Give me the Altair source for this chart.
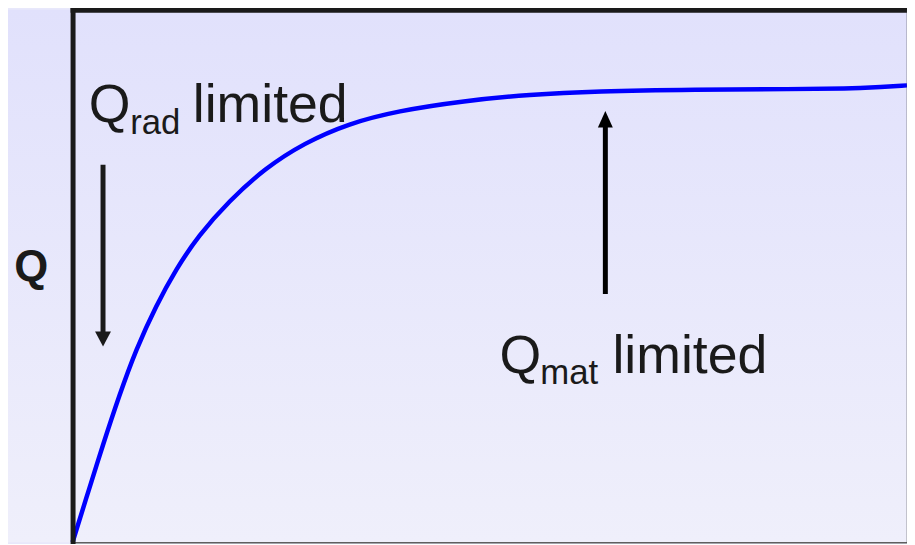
import altair as alt
import pandas as pd

# ---- data (in plot units 0..100) ----
curve_x = [0, 2.0, 3.6, 5.6, 7.6, 10.0, 12.4, 15.1, 18.7, 23.1, 27.8, 33.0, 38.9,
           46.9, 54.8, 62.7, 74.6, 86.5, 93.0, 96.1, 100]
curve_y = [0, 10.1, 18.1, 27.6, 36.2, 44.4, 51.3, 57.6, 64.0, 70.3, 75.0, 78.6, 81.0,
           82.9, 84.1, 84.7, 85.0, 85.1, 85.2, 85.4, 85.8]

arrow_x = [3.65, 63.85]
arrow_from = [70.9, 46.6]
arrow_to = [36.75, 80.97]
arrow_dir = ["down", "up"]

label_main = ["Q", "limited", "Q", "limited"]
label_main_x = [1.95, 14.40, 51.15, 64.70]
label_main_y = [79.01, 79.01, 31.85, 31.85]

label_sub = ["rad", "mat"]
label_sub_x = [6.90, 56.05]
label_sub_y = [76.59, 29.66]

y_title = "Q"

curve_df = pd.DataFrame({"x": curve_x, "y": curve_y})
arrow_df = pd.DataFrame({"x": arrow_x, "y0": arrow_from, "y1": arrow_to, "dir": arrow_dir})
main_df = pd.DataFrame({"x": label_main_x, "y": label_main_y, "t": label_main})
sub_df = pd.DataFrame({"x": label_sub_x, "y": label_sub_y, "t": label_sub})

FONT = "Liberation Sans"
INK = "#1a1a1a"

xs = alt.Scale(domain=[0, 100], nice=False, zero=False)
ys = alt.Scale(domain=[0, 100], nice=False, zero=False)

axis_top = alt.Axis(orient="top", title=None, labels=False, ticks=False, grid=False,
                    domain=True, domainColor=INK, domainWidth=5, domainCap="square", zindex=1)
axis_left = alt.Axis(orient="left", title=y_title, titleAngle=0, titleFontSize=44,
                     titleFontWeight="bold", titleFont=FONT, titleColor=INK,
                     titleX=-42, titleY=272.5, titleAlign="center", titleBaseline="alphabetic",
                     labels=False, ticks=False, grid=False, domain=True, domainColor=INK,
                     domainWidth=5, domainCap="square", zindex=1)
axis_bottom = alt.Axis(orient="bottom", title=None, labels=False, ticks=False, grid=False,
                       domain=True, domainColor="#5f5f5f", domainWidth=1.5, zindex=1)
axis_right = alt.Axis(orient="right", title=None, labels=False, ticks=False, grid=False,
                      domain=True, domainColor="#404040", domainWidth=1.5, zindex=1)

grad = alt.Gradient(
    gradient="linear",
    stops=[alt.GradientStop(color="#e1e1fc", offset=0),
           alt.GradientStop(color="#efeffb", offset=1)],
    x1=0, x2=0, y1=0, y2=1,
)

bg = alt.Chart(alt.Data(values=[{"k": 1}])).mark_rect(fill=grad).encode(
    x=alt.value(-65), x2=alt.value(840), y=alt.value(0), y2=alt.value(536)
)

line = alt.Chart(curve_df).mark_line(color="#0000ff", strokeWidth=4.5, interpolate="basis").encode(
    x=alt.X("x:Q", scale=xs, axis=axis_top),
    y=alt.Y("y:Q", scale=ys, axis=axis_left),
)

shaft_down = alt.Chart(arrow_df).transform_filter(alt.datum.dir == "down").mark_rule(
    color=INK, strokeWidth=5, y2Offset=-10
).encode(
    x=alt.X("x:Q", scale=xs, axis=axis_bottom),
    y=alt.Y("y0:Q", scale=ys, axis=axis_right),
    y2="y1:Q",
)
head_down = alt.Chart(arrow_df).transform_filter(alt.datum.dir == "down").mark_point(
    shape="M0,0L-1,-1.9L1,-1.9Z", size=256, filled=True, opacity=1, color=INK, strokeWidth=0
).encode(
    x=alt.X("x:Q", scale=xs, axis=None),
    y=alt.Y("y1:Q", scale=ys, axis=None),
)
shaft_up = alt.Chart(arrow_df).transform_filter(alt.datum.dir == "up").mark_rule(
    color="#000000", strokeWidth=5, y2Offset=10
).encode(
    x=alt.X("x:Q", scale=xs, axis=None),
    y=alt.Y("y0:Q", scale=ys, axis=None),
    y2="y1:Q",
)
head_up = alt.Chart(arrow_df).transform_filter(alt.datum.dir == "up").mark_point(
    shape="M0,0L-1,2.2L1,2.2Z", size=225, filled=True, opacity=1, color="#000000", strokeWidth=0
).encode(
    x=alt.X("x:Q", scale=xs, axis=None),
    y=alt.Y("y1:Q", scale=ys, axis=None),
)

main_text = alt.Chart(main_df).mark_text(
    align="left", baseline="alphabetic", font=FONT, fontSize=54, color=INK
).encode(
    x=alt.X("x:Q", scale=xs, axis=None),
    y=alt.Y("y:Q", scale=ys, axis=None),
    text="t:N",
)
sub_text = alt.Chart(sub_df).mark_text(
    align="left", baseline="alphabetic", font=FONT, fontSize=35, color=INK
).encode(
    x=alt.X("x:Q", scale=xs, axis=None),
    y=alt.Y("y:Q", scale=ys, axis=None),
    text="t:N",
)

chart = alt.layer(
    bg, line, shaft_down, head_down, shaft_up, head_up, main_text, sub_text
).resolve_axis(
    x="independent", y="independent"
).properties(
    width=840,
    height=536,
    autosize=alt.AutoSizeParams(type="none"),
    padding={"left": 65, "top": 0, "right": 0, "bottom": 0},
    background="#e8e8fb",
).configure_view(stroke=None)

chart.save("out.html", embed_options={"renderer": "svg", "actions": False})
